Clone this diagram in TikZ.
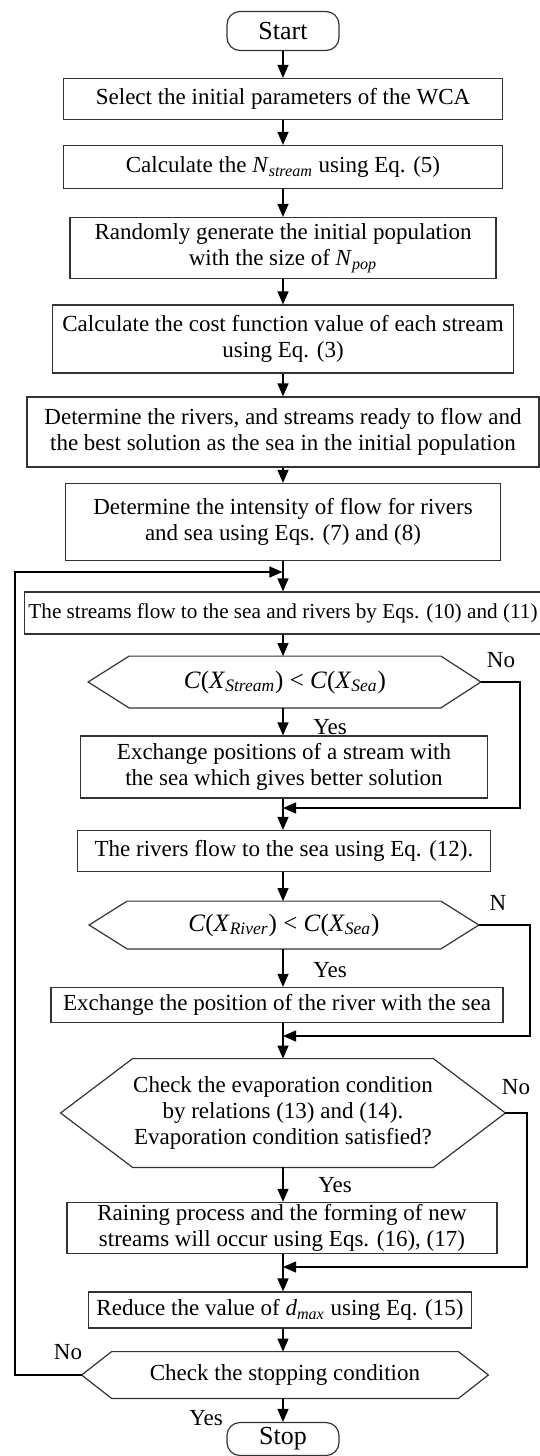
\documentclass[tikz,border=0pt]{standalone}
\usepackage{fontspec}
\setmainfont{Liberation Serif}
\usetikzlibrary{arrows.meta,calc}
\newcommand\sub[1]{\textsubscript{\textit{#1}}}

\begin{document}
\begin{tikzpicture}[x=0.5pt,y=-0.5pt,
    font=\fontsize{11.5}{13}\selectfont,
    box/.style={draw=black!80,line width=0.6pt,rectangle,align=center,inner xsep=2pt,inner ysep=1pt},
    term/.style={box,rounded corners=6.5pt,font=\fontsize{13}{15}\selectfont},
    cond/.style={rectangle,align=center,inner sep=0pt},
    formula/.style={cond,font=\fontsize{12.5}{14}\selectfont},
    hexa/.style={draw=black!80,line width=0.6pt},
    arr/.style={-{Triangle[length=6.5pt,width=5.5pt]},line width=0.6pt},
    lbl/.style={inner sep=0pt}]
    \useasboundingbox (0,0) rectangle (540,1456);

    % main column
    \node[term,minimum width=56pt,minimum height=19.5pt] (start) at (283,31) {Start};
    \node[box,minimum width=219.5pt,minimum height=20.5pt] (b1) at (283,99) {Select the initial parameters of the WCA};
    \node[box,minimum width=219.5pt,minimum height=21.5pt] (b2) at (283,167) {Calculate the \textit{N}\sub{stream} using Eq. (5)};
    \node[box,minimum width=213pt,minimum height=30.5pt] (b3) at (283,248) {Randomly generate the initial population\\with the size of \textit{N}\sub{pop}};
    \node[box,minimum width=230.5pt,minimum height=34pt] (b4) at (283,339) {Calculate the cost function value of each stream\\using Eq. (3)};
    \node[box,minimum width=256pt,minimum height=35pt] (b5) at (283,432) {Determine the rivers, and streams ready to flow and\\the best solution as the sea in the initial population};
    \node[box,minimum width=217.5pt,minimum height=38.5pt] (b6) at (283,522) {Determine the intensity of flow for rivers\\and sea using Eqs. (7) and (8)};
    \node[box,minimum width=256.5pt,minimum height=21pt,font=\fontsize{10.6}{13}\selectfont] (b7) at (283,613) {The streams flow to the sea and rivers by Eqs. (10) and (11)};
    \node[formula,minimum width=155.5pt,minimum height=25.5pt] (d1) at (285,682) {\textit{C}(\textit{X}\sub{Stream}) < \textit{C}(\textit{X}\sub{Sea})};
    \node[box,minimum width=203.5pt,minimum height=31pt] (b8) at (284,767) {Exchange positions of a stream with\\the sea which gives better solution};
    \node[box,minimum width=206.5pt,minimum height=20.5pt] (b9) at (284,851) {The rivers flow to the sea using Eq. (12).};
    \node[formula,minimum width=156.5pt,minimum height=23.5pt] (d2) at (284,925) {\textit{C}(\textit{X}\sub{River}) < \textit{C}(\textit{X}\sub{Sea})};
    \node[box,minimum width=226pt,minimum height=17.5pt] (b10) at (277,1005) {Exchange the position of the river with the sea};
    \node[cond,minimum width=150pt,minimum height=54pt] (d3) at (283,1113) {Check the evaporation condition\\by relations (13) and (14).\\Evaporation condition satisfied?};
    \node[box,minimum width=215pt,minimum height=23.5pt] (b11) at (282,1228) {Raining process and the forming of new\\streams will occur using Eqs. (16), (17)};
    \node[box,minimum width=191.5pt,minimum height=18pt] (b12) at (280,1310) {Reduce the value of \textit{d}\sub{max} using Eq. (15)};
    \node[cond,minimum width=173pt,minimum height=23pt] (d4) at (285,1375) {Check the stopping condition};
    \node[term,minimum width=56pt,minimum height=16.5pt] (stop) at (283,1439) {Stop};

    % hexagon outlines
    \coordinate (d1w) at ($(d1.west)+(-41,0)$);
    \coordinate (d1e) at ($(d1.east)+(40,0)$);
    \coordinate (d2w) at ($(d2.west)+(-38,0)$);
    \coordinate (d2e) at ($(d2.east)+(38,0)$);
    \coordinate (d3w) at ($(d3.west)+(-72,0)$);
    \coordinate (d3e) at ($(d3.east)+(72,0)$);
    \coordinate (d4w) at ($(d4.west)+(-30,0)$);
    \coordinate (d4e) at ($(d4.east)+(30,0)$);
    \draw[hexa] (d1w) -- (d1.north west) -- (d1.north east) -- (d1e) -- (d1.south east) -- (d1.south west) -- cycle;
    \draw[hexa] (d2w) -- (d2.north west) -- (d2.north east) -- (d2e) -- (d2.south east) -- (d2.south west) -- cycle;
    \draw[hexa] (d3w) -- (d3.north west) -- (d3.north east) -- (d3e) -- (d3.south east) -- (d3.south west) -- cycle;
    \draw[hexa] (d4w) -- (d4.north west) -- (d4.north east) -- (d4e) -- (d4.south east) -- (d4.south west) -- cycle;

    % joints
    \coordinate (j0) at (283,572);
    \coordinate (m1) at (283,808);
    \coordinate (m2) at (283,1036);
    \coordinate (m3) at (283,1267);
    \coordinate (r1) at (520,0);
    \coordinate (r2) at (530,0);
    \coordinate (r3) at (527,0);
    \coordinate (lp) at (15,0);

    % straight arrows
    \draw[arr] (start.south) -- (start.south |- b1.north);
    \draw[arr] (b1.south) -- (b1.south |- b2.north);
    \draw[arr] (b2.south) -- (b2.south |- b3.north);
    \draw[arr] (b3.south) -- (b3.south |- b4.north);
    \draw[arr] (b4.south) -- (b4.south |- b5.north);
    \draw[arr] (b5.south) -- (b5.south |- b6.north);
    \draw[arr] (b6.south) -- (b6.south |- b7.north);
    \draw[arr] (b7.south -| j0) -- (j0 |- d1.north);
    \draw[arr] (d1.south -| j0) -- (j0 |- b8.north);
    \draw[arr] (b8.south -| j0) -- (j0 |- b9.north);
    \draw[arr] (b9.south -| j0) -- (j0 |- d2.north);
    \draw[arr] (d2.south -| j0) -- (j0 |- b10.north);
    \draw[arr] (b10.south -| j0) -- (j0 |- d3.north);
    \draw[arr] (d3.south -| j0) -- (j0 |- b11.north);
    \draw[arr] (b11.south -| j0) -- (j0 |- b12.north);
    \draw[arr] (b12.south -| j0) -- (j0 |- d4.north);
    \draw[arr] (d4.south -| j0) -- (j0 |- stop.north);

    % no branches
    \draw[arr] (d1e) -- (d1e -| r1) |- (m1);
    \draw[arr] (d2e) -- (d2e -| r2) |- (m2);
    \draw[arr] (d3e) -- (d3e -| r3) |- (m3);
    \draw[arr] (d4w) -- (d4w -| lp) |- ([xshift=-0.3pt]j0);

    % labels
    \node[lbl] (y1) at (330,727) {Yes};
    \node[lbl] (n1) at (501,660) {No};
    \node[lbl] (y2) at (330,970) {Yes};
    \node[lbl] (n2) at (498,903) {N};
    \node[lbl] (y3) at (335,1185) {Yes};
    \node[lbl] (n3) at (516,1087) {No};
    \node[lbl] (n4) at (68,1352) {No};
    \node[lbl] (y4) at (206,1418) {Yes};
\end{tikzpicture}
\end{document}
